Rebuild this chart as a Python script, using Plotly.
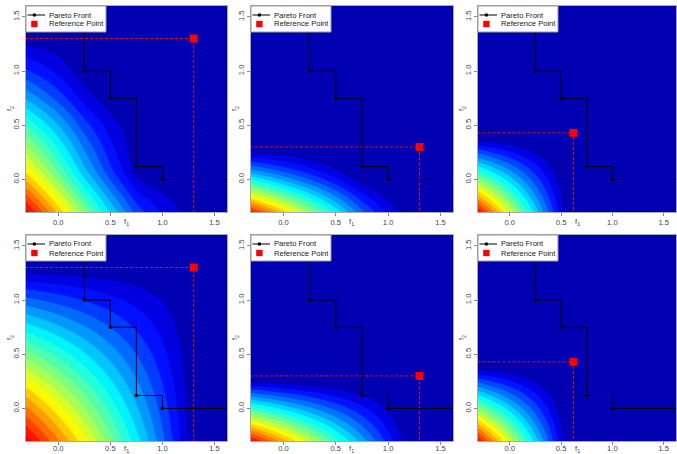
import numpy as np
import plotly.graph_objects as go

# ---------------- data ----------------
pareto_f1 = [0.25, 0.50, 0.75, 1.00]
pareto_f2 = [1.00, 0.75, 0.12, 0.00]
ref_f1 = [1.30, 1.30, 0.62]
ref_f2 = [1.30, 0.30, 0.43]
row_uses_front = [True, False]
tick_vals = [0.0, 0.5, 1.0, 1.5]
tick_text = ["0.0", "0.5", "1.0", "1.5"]
legend_names = ["Pareto Front", "Reference Point"]

X_RANGE = [-0.31, 1.62]
Y_RANGE = [-0.30, 1.60]

W, H = 677, 454
col_px = [(26, 227), (251, 453), (478, 676)]
row_px = [(6, 212), (235, 441)]
level_gamma = [[0.8, 0.95, 1.0], [0.9, 1.0, 1.0]]
first_level = [[0.05, 0.08, 0.10], [0.05, 0.10, 0.10]]

FONT = "Liberation Sans, Arial, sans-serif"
FS = 7.6

# jet palette (dark blue -> blue -> cyan -> yellow -> red)
colorscale = [
    [0.0, "rgb(0,0,178)"],
    [0.088, "rgb(0,0,255)"],
    [0.235, "rgb(0,127,255)"],
    [0.382, "rgb(0,255,255)"],
    [0.529, "rgb(127,255,127)"],
    [0.676, "rgb(255,255,0)"],
    [0.824, "rgb(255,127,0)"],
    [0.971, "rgb(255,0,0)"],
    [1.0, "rgb(240,0,0)"],
]


def hv_improvement(X, Y, r1, r2, use_front):
    area = np.clip(r1 - X, 0, None) * np.clip(r2 - Y, 0, None)
    if not use_front:
        return area
    order = np.argsort(pareto_f1)
    prev = np.full_like(X, r2)
    covered = np.zeros_like(X)
    for i in order:
        xi = np.minimum(np.maximum(X, pareto_f1[i]), r1)
        yi = np.minimum(np.maximum(Y, pareto_f2[i]), r2)
        covered += (r1 - xi) * np.clip(prev - yi, 0, None)
        prev = np.minimum(prev, yi)
    return area - covered


def blur(Z, s):
    k = np.arange(-3 * s, 3 * s + 1)
    w = np.exp(-k ** 2 / (2.0 * s * s))
    w /= w.sum()
    n = len(k) // 2
    P = np.pad(Z, n, mode="edge")
    P = np.apply_along_axis(lambda v: np.convolve(v, w, mode="valid"), 0, P)
    P = np.apply_along_axis(lambda v: np.convolve(v, w, mode="valid"), 1, P)
    return P


step = 0.01
gx_full = np.arange(-0.7, 2.0 + 1e-9, step)
gy_full = np.arange(-0.7, 2.0 + 1e-9, step)
GX, GY = np.meshgrid(gx_full, gy_full)
mx = (gx_full >= X_RANGE[0] - 0.02) & (gx_full <= X_RANGE[1] + 0.02)
my = (gy_full >= Y_RANGE[0] - 0.02) & (gy_full <= Y_RANGE[1] + 0.02)

fig = go.Figure()
annotations = []
shapes = []
layout_axes = {}


def px_x(v):
    return v / W


def px_y(v):
    return 1 - v / H


for row in range(2):
    for col in range(3):
        idx = row * 3 + col + 1
        xa = "x" if idx == 1 else f"x{idx}"
        ya = "y" if idx == 1 else f"y{idx}"
        r1, r2 = ref_f1[col], ref_f2[col]

        Z = hv_improvement(GX, GY, r1, r2, row_uses_front[row])
        Z = blur(Z, 5)
        Z = Z[np.ix_(my, mx)]
        Z = np.clip(Z / Z.max(), 0, None) ** level_gamma[row][col]
        lv = 0.05

        fig.add_trace(go.Contour(
            x=gx_full[mx], y=gy_full[my], z=Z, xaxis=xa, yaxis=ya,
            colorscale=colorscale,
            contours=dict(start=first_level[row][col], end=0.999, size=lv,
                          coloring="fill", showlines=False),
            line=dict(width=0), showscale=False, hoverinfo="skip", showlegend=False,
        ))

        # dashed guide lines from reference point
        fig.add_trace(go.Scatter(
            x=[X_RANGE[0] - 0.2, r1, r1], y=[r2, r2, Y_RANGE[0] - 0.2],
            mode="lines", line=dict(color="rgb(215,20,20)", width=1, dash="3px,2px"),
            xaxis=xa, yaxis=ya, showlegend=False, hoverinfo="skip",
        ))

        # staircase extensions
        fig.add_trace(go.Scatter(
            x=[pareto_f1[0], pareto_f1[0], None, pareto_f1[-1], X_RANGE[1] + 0.3],
            y=[Y_RANGE[1] + 0.3, pareto_f2[0], None, pareto_f2[-1], pareto_f2[-1]],
            mode="lines", line=dict(color="black", width=1),
            xaxis=xa, yaxis=ya, showlegend=False, hoverinfo="skip",
        ))
        fig.add_trace(go.Scatter(
            x=pareto_f1, y=pareto_f2, mode="lines+markers",
            line=dict(color="black", width=1, shape="hv"),
            marker=dict(color="black", size=3.5),
            name=legend_names[0], xaxis=xa, yaxis=ya, showlegend=False,
        ))
        fig.add_trace(go.Scatter(
            x=[r1], y=[r2], mode="markers",
            marker=dict(color="red", size=8, symbol="square"),
            name=legend_names[1], xaxis=xa, yaxis=ya, showlegend=False,
        ))

        L, R = col_px[col]
        T, B = row_px[row]
        x0, x1 = px_x(L), px_x(R)
        y0, y1 = px_y(B), px_y(T)
        axis_common = dict(
            tickvals=tick_vals, ticktext=tick_text, ticks="outside", ticklen=3,
            tickcolor="#888888", showline=True, mirror=True, linecolor="#aaaaaa",
            linewidth=1, showgrid=False, zeroline=False, automargin=False,
            tickfont=dict(family=FONT, size=FS, color="#444444"),
        )
        xextra = dict(ticklabelstandoff=-3) if row == 1 else {}
        layout_axes["xaxis" if idx == 1 else f"xaxis{idx}"] = dict(
            domain=[x0, x1], range=X_RANGE, anchor=ya, **xextra, **axis_common)
        layout_axes["yaxis" if idx == 1 else f"yaxis{idx}"] = dict(
            domain=[y0, y1], range=Y_RANGE, anchor=xa, tickangle=-90, **axis_common)

        # legend box (drawn in paper space)
        shapes.append(dict(type="rect", xref="paper", yref="paper",
                           x0=px_x(L), x1=px_x(L + 80), y0=px_y(T + 26), y1=px_y(T),
                           fillcolor="white", line=dict(color="#999999", width=1)))
        shapes.append(dict(type="line", xref="paper", yref="paper",
                           x0=px_x(L + 1.5), x1=px_x(L + 19), y0=px_y(T + 9), y1=px_y(T + 9),
                           line=dict(color="black", width=1)))
        shapes.append(dict(type="circle", xref="paper", yref="paper",
                           x0=px_x(L + 6.6), x1=px_x(L + 10.2), y0=px_y(T + 10.8), y1=px_y(T + 7.2),
                           fillcolor="black", line=dict(color="black", width=0)))
        shapes.append(dict(type="rect", xref="paper", yref="paper",
                           x0=px_x(L + 5.2), x1=px_x(L + 11.6), y0=px_y(T + 21.2), y1=px_y(T + 14.8),
                           fillcolor="red", line=dict(color="red", width=0)))
        for j, nm in enumerate(legend_names):
            annotations.append(dict(
                x=px_x(L + 21), y=px_y(T + 9 + 9 * j), xref="paper", yref="paper",
                text=nm, showarrow=False, xanchor="left", yanchor="middle",
                font=dict(family=FONT, size=FS, color="#222222"),
            ))

        annotations.append(dict(
            x=(x0 + x1) / 2, y=px_y(B + (10 if row == 0 else 7.5)), xref="paper", yref="paper",
            text="f<sub>1</sub>", showarrow=False, xanchor="center", yanchor="middle",
            font=dict(family=FONT, size=FS, color="#444444"),
        ))
        annotations.append(dict(
            x=px_x(L - 16), y=(y0 + y1) / 2, xref="paper", yref="paper",
            text="f<sub>2</sub>", showarrow=False, xanchor="center", yanchor="middle",
            textangle=-90, font=dict(family=FONT, size=FS, color="#444444"),
        ))

fig.update_layout(
    width=W, height=H, margin=dict(l=0, r=0, t=0, b=0),
    paper_bgcolor="white", plot_bgcolor="white", showlegend=False,
    annotations=annotations, shapes=shapes, **layout_axes,
)

fig.write_html(
    "out.html",
    config={"displayModeBar": False},
    post_script="document.body.style.margin='0';document.body.style.overflow='hidden';",
)
